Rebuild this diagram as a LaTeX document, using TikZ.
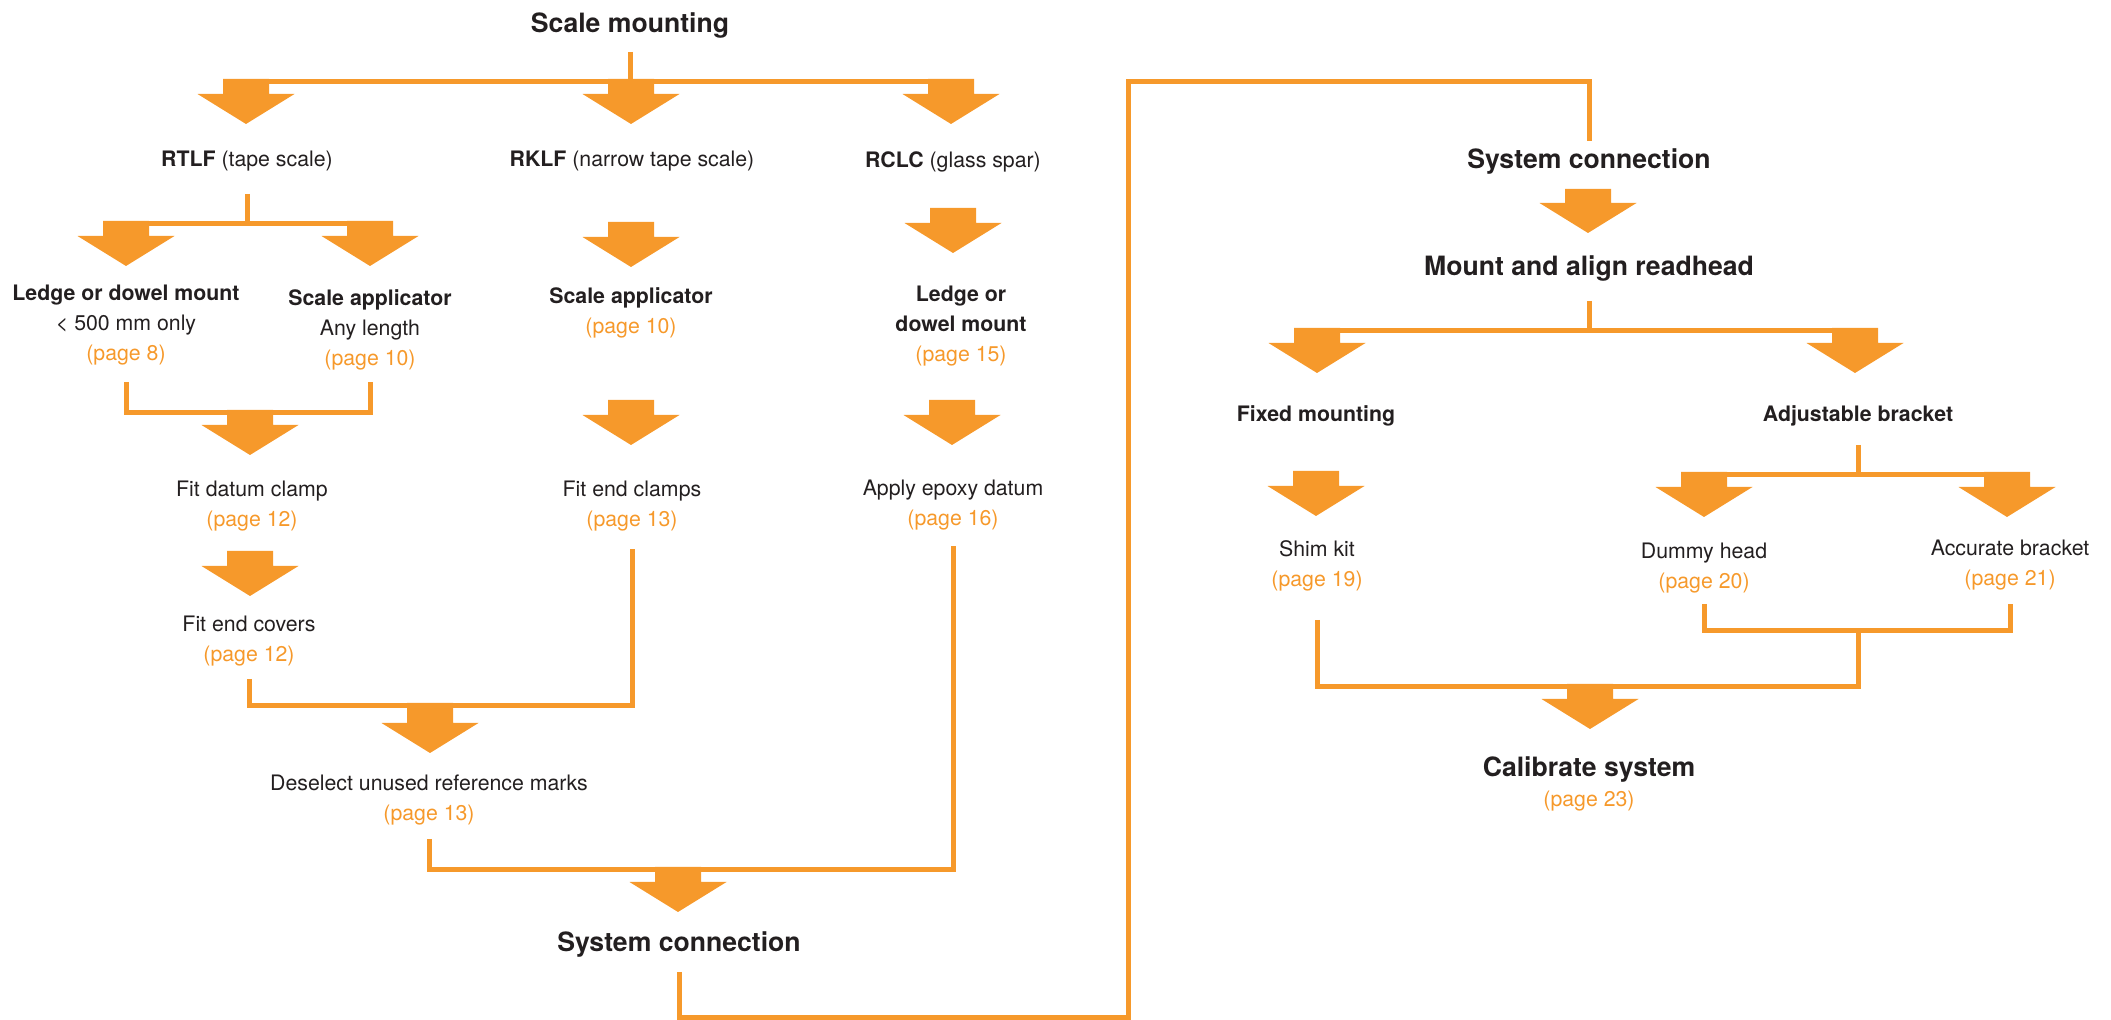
\documentclass[tikz,border=0pt]{standalone}
\usepackage{fontspec}
\setmainfont{TeX Gyre Heros}
\usepackage{xcolor}
\usepackage{tikz}

\definecolor{rorange}{HTML}{F6992B}
\definecolor{rdark}{HTML}{231F20}
\newcommand{\pg}[1]{\textcolor{rorange}{(page #1)}}

\tikzset{
  txt/.style={inner sep=0pt, anchor=north, align=center, text=rdark,
    font={\fontsize{10.65}{15}\selectfont}},
  big/.style={txt, font={\fontsize{13.3}{16}\selectfont\bfseries}},
  link/.style={draw=rorange, line width=2.5pt},
  arr/.pic={
    \fill[rorange] (-23,0) -- (23,0) -- (23,#1) -- (48.5,#1) -- (0,#1+30)
      -- (-48.5,#1) -- (-23,#1) -- cycle;
    \coordinate (-top) at (0,0);
    \coordinate (-bar) at (0,2.5);
  },
  pics/arr/.default=15
}

\begin{document}
\begin{tikzpicture}[x=0.5pt,y=-0.5pt]
\useasboundingbox (0,0) rectangle (2111,1020);
% texts, left half
\node[big] (scale) at (630,12) {Scale mounting};
\node[txt] (rtlf) at (247,151) {\textbf{RTLF} (tape scale)};
\node[txt] (rklf) at (632,151) {\textbf{RKLF} (narrow tape scale)};
\node[txt] (rclc) at (953,151) {\textbf{RCLC} (glass spar)};
\node[txt] (ledge) at (126,285) {\textbf{Ledge or dowel mount}\\< 500 mm only\\\pg{8}};
\node[txt] (appl) at (370,289) {\textbf{Scale applicator}\\Any length\\\pg{10}};
\node[txt] (appl2) at (631,287) {\textbf{Scale applicator}\\\pg{10}};
\node[txt] (ledge2) at (961,286) {\textbf{Ledge or}\\\textbf{dowel mount}\\\pg{15}};
\node[txt] (datum) at (252,481) {Fit datum clamp\\\pg{12}};
\node[txt] (endcl) at (632,481) {Fit end clamps\\\pg{13}};
\node[txt] (epoxy) at (953,480) {Apply epoxy datum\\\pg{16}};
\node[txt] (covers) at (249,616) {Fit end covers\\\pg{12}};
\node[txt] (desel) at (429,775) {Deselect unused reference marks\\\pg{13}};
\node[big] (sys) at (679,931) {System connection};
% texts, right half
\node[big] (sys2) at (1589,148) {System connection};
\node[big] (mount) at (1589,255) {Mount and align readhead};
\node[txt] (fixed) at (1316,405) {\textbf{Fixed mounting}};
\node[txt] (adj) at (1858,405) {\textbf{Adjustable bracket}};
\node[txt] (shim) at (1317,540) {Shim kit\\\pg{19}};
\node[txt] (dummy) at (1704,543) {Dummy head\\\pg{20}};
\node[txt] (accur) at (2010,540) {Accurate bracket\\\pg{21}};
\node[big,font={\fontsize{13.3}{15}\selectfont\bfseries}] (calib) at (1589,756)
  {Calibrate system\\{\mdseries\fontsize{10.65}{15}\selectfont\pg{23}}};

% arrows
\pic (a1) at (246,79) {arr};
\pic (a2) at (631,79) {arr};
\pic (a3) at (951,79) {arr};
\pic (b1) at (126,221) {arr};
\pic (b2) at (370,221) {arr};
\pic (c2) at (631,222) {arr};
\pic (c3) at (953,208) {arr};
\pic (d1) at (250,410) {arr};
\pic (d2) at (631,400) {arr};
\pic (d3) at (952,400) {arr};
\pic (e1) at (250,551) {arr};
\pic (f) at (430,703) {arr=20};
\pic (g) at (678,867) {arr};
\pic (h) at (1588,189) {arr=14};
\pic (i1) at (1317,328) {arr};
\pic (i2) at (1855,328) {arr};
\pic (j) at (1316,471) {arr};
\pic (k1) at (1704,472) {arr};
\pic (k2) at (2007,472) {arr};
\pic (l) at (1590,684) {arr};

% connectors
\draw[link] (scale.south |- 0,52) -- (scale.south |- a2-bar);
\draw[link] (a1-bar) -- (a3-bar);
\draw[link] (rtlf.south |- 0,194) -- (rtlf.south |- b1-bar);
\draw[link] (b1-bar) -- (b2-bar);
\draw[link] (ledge.south |- 0,382) |- (appl.south |- d1-bar) -- (appl.south |- 0,382);
\draw[link] (covers.south |- 0,679) |- (endcl.south |- f-bar) -- (endcl.south |- 0,549);
\draw[link] (desel.south |- 0,839) |- (epoxy.south |- g-bar) -- (epoxy.south |- 0,546);
\coordinate (turn) at (1128,1017.5);
\draw[link] (sys.south |- 0,972) |- (turn) |- (sys2.north |- 0,82) -- (sys2.north |- 0,141);
\draw[link] (mount.south |- 0,301) -- (mount.south |- i1-bar);
\draw[link] (i1-bar) -- (i2-bar);
\draw[link] (adj.south |- 0,445) -- (adj.south |- k1-bar);
\draw[link] (k1-bar) -- (k2-bar);
\draw[link] (dummy.south |- 0,604) |- (accur.south |- 0,630.5) -- (accur.south |- 0,604);
\draw[link] (shim.south |- 0,620) |- (adj.south |- l-bar) -- (adj.south |- 0,630.5);
\end{tikzpicture}
\end{document}
